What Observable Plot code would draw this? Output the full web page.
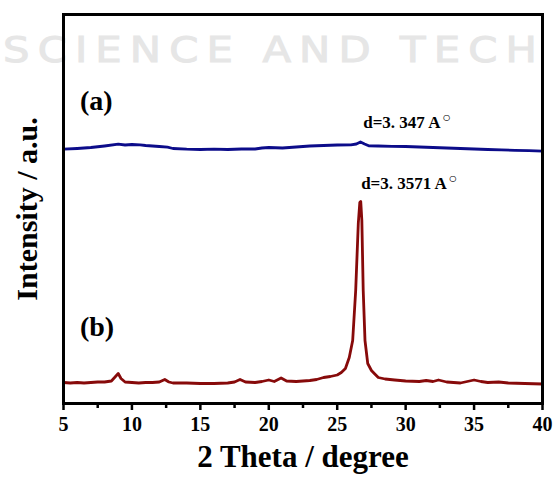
<!DOCTYPE html>
<html>
<head>
<meta charset="utf-8">
<script src="https://cdn.jsdelivr.net/npm/d3@7"></script>
<script src="https://cdn.jsdelivr.net/npm/@observablehq/plot@0.6"></script>
<style>
  html, body { margin: 0; padding: 0; background: #fff; }
  #wrap { position: relative; width: 557px; height: 484px; overflow: hidden; }
  #wm { position: absolute; left: 3px; top: 29px; font-family: "DejaVu Sans", sans-serif; font-size: 36px; letter-spacing: 7px; color: #e6e6e6; white-space: nowrap; transform: scaleX(1.16); transform-origin: left top; -webkit-text-stroke: 1px #e6e6e6; }
  #chart { position: absolute; left: 0; top: 0; }
</style>
</head>
<body>
<div id="wrap">
  <div id="wm">SCIENCE AND TECH</div>
  <div id="chart"></div>
</div>
<script>
// 2θ positions (degree) and intensities (a.u.)
const xA = [5.0, 6.0, 7.0, 8.0, 9.0, 9.5, 10.0, 10.6, 11.0, 12.0, 12.6, 13.0, 14.0, 15.0, 16.0, 17.0, 18.0, 19.0, 19.5, 20.0, 21.0, 22.0, 23.0, 24.0, 25.0, 26.0, 26.4, 26.7, 27.0, 27.3, 28.0, 29.0, 30.0, 31.0, 32.0, 33.0, 34.0, 35.0, 36.0, 37.0, 38.0, 39.0, 40.0];
const yA = [2543, 2550, 2560, 2575, 2593, 2585, 2590, 2587, 2580, 2570, 2563, 2550, 2543, 2540, 2543, 2540, 2545, 2545, 2555, 2560, 2555, 2565, 2575, 2580, 2585, 2587, 2595, 2615, 2595, 2577, 2575, 2572, 2570, 2565, 2560, 2555, 2550, 2545, 2540, 2537, 2532, 2528, 2523];

const xB = [5.0, 5.5, 6.0, 6.5, 7.0, 7.5, 8.0, 8.5, 8.8, 9.0, 9.2, 9.5, 10.0, 10.5, 11.0, 11.5, 12.0, 12.4, 12.7, 13.0, 14.0, 15.0, 16.0, 17.0, 17.5, 17.9, 18.3, 19.0, 19.5, 20.0, 20.4, 20.9, 21.3, 22.0, 22.5, 23.0, 23.5, 24.0, 24.5, 25.0, 25.3, 25.6, 25.88, 26.13, 26.35, 26.54, 26.65, 26.72, 26.8, 26.9, 27.03, 27.23, 27.5, 27.71, 28.0, 28.5, 29.2, 30.0, 31.0, 31.5, 32.0, 32.4, 33.0, 34.0, 35.0, 35.5, 36.0, 36.8, 37.5, 38.7, 40.0];
const yB = [210, 205, 210, 205, 210, 215, 215, 225, 270, 300, 250, 215, 210, 205, 210, 210, 215, 240, 215, 205, 205, 200, 200, 205, 215, 240, 215, 210, 220, 235, 220, 255, 225, 220, 225, 230, 240, 260, 270, 285, 310, 350, 460, 630, 1130, 1800, 2010, 2020, 1830, 1130, 630, 400, 330, 300, 260, 245, 235, 225, 220, 230, 220, 235, 215, 205, 235, 220, 210, 215, 205, 200, 195];

const xTicks = [5, 10, 15, 20, 25, 30, 35, 40];
const xMinorTicks = [7.5, 12.5, 17.5, 22.5, 27.5, 32.5, 37.5];
const xTitle = "2 Theta / degree";
const yTitle = "Intensity / a.u.";

const panelLabels = ["(a)", "(b)"];
const panelX = [6.2, 6.2];
const panelY = [3020, 760];

const dLabels = ["d=3. 347 A", "d=3. 3571 A"];
const dX = [26.9, 26.75];
const dY = [2810, 2200];

const seriesA = xA.map((x, i) => ({x, y: yA[i]}));
const seriesB = xB.map((x, i) => ({x, y: yB[i]}));
const panels = panelLabels.map((t, i) => ({t, x: panelX[i], y: panelY[i]}));
const dlabs = dLabels.map((t, i) => ({t, x: dX[i], y: dY[i]}));

const serif = "'Liberation Serif', 'Times New Roman', serif";

const plot = Plot.plot({
  width: 557,
  height: 484,
  marginLeft: 63,
  marginRight: 15,
  marginTop: 14,
  marginBottom: 81,
  style: {background: "transparent", fontFamily: serif, color: "#000"},
  x: {domain: [5, 40]},
  y: {domain: [0, 3890], axis: null},
  marks: [
    Plot.line(seriesA, {x: "x", y: "y", stroke: "#0c0c8a", strokeWidth: 2.8}),
    Plot.line(seriesB, {x: "x", y: "y", stroke: "#870a0a", strokeWidth: 2.8}),
    Plot.frame({stroke: "#000", strokeWidth: 3}),
    Plot.axisX({ticks: xTicks, tickSize: 7, tickPadding: 6, strokeWidth: 2.5, fontSize: 20, fontWeight: "bold", label: null, tickFormat: d => String(d)}),
    Plot.axisX({ticks: xMinorTicks, tickSize: 5, strokeWidth: 2.5, text: null, label: null}),
    Plot.text([xTitle], {frameAnchor: "bottom", dy: 63, text: d => d, fontSize: 31, fontWeight: "bold", fill: "#000"}),
    Plot.text([yTitle], {frameAnchor: "left", dx: -36, rotate: -90, textAnchor: "middle", text: d => d, fontSize: 30, fontWeight: "bold", fill: "#000"}),
    Plot.text(panels, {x: "x", y: "y", text: "t", textAnchor: "start", fontSize: 28, fontWeight: "bold", fill: "#000"}),
    Plot.text(dlabs, {x: "x", y: "y", text: "t", textAnchor: "start", fontSize: 17, fontWeight: "bold", fill: "#000"}),
    Plot.text(dlabs, {x: "x", y: "y", text: () => "○", textAnchor: "start", fontSize: 14, fontWeight: "bold", fill: "#000", dy: -5})
  ]
});
document.getElementById("chart").appendChild(plot);

// place the small ring right after each d-label
requestAnimationFrame(() => {
  const groups = plot.querySelectorAll("g[aria-label='text']");
  const labelG = groups[groups.length - 2];
  const ringG = groups[groups.length - 1];
  const labs = labelG.querySelectorAll("text");
  const rings = ringG.querySelectorAll("text");
  labs.forEach((t, i) => {
    const bb = t.getBBox();
    const r = rings[i];
    const cur = r.getAttribute("transform") || "";
    const rb = r.getBBox();
    r.setAttribute("transform", cur + ` translate(${bb.x + bb.width - rb.x + 1},0)`);
  });
});
</script>
</body>
</html>
